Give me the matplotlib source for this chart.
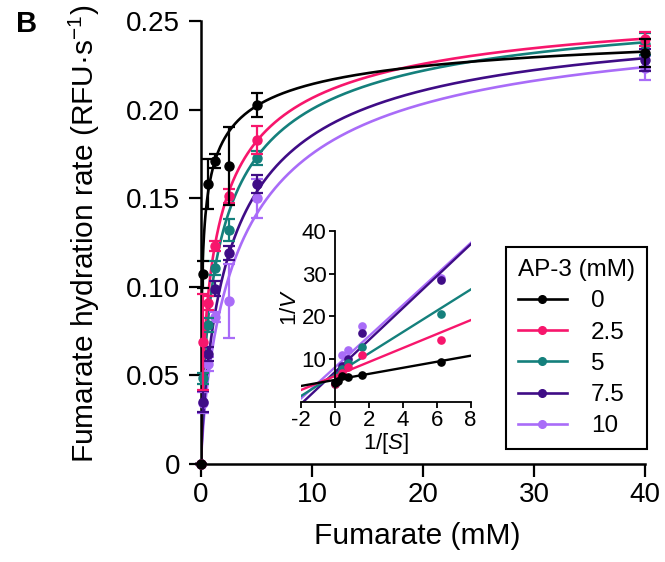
import matplotlib
matplotlib.use('Agg')
import matplotlib.pyplot as plt
from matplotlib.lines import Line2D
import numpy as np

plt.rcParams['font.family'] = ['Liberation Sans', 'DejaVu Sans']
plt.rcParams['mathtext.fontset'] = 'custom'
plt.rcParams['mathtext.rm'] = 'Liberation Sans'
plt.rcParams['mathtext.it'] = 'Liberation Sans:italic'
plt.rcParams['axes.unicode_minus'] = False

# fumarate concentrations (mM)
conc = [0, 0.16, 0.625, 1.25, 2.5, 5, 40]

# AP-3 concentrations (mM) for the legend
ap3_labels = ['0', '2.5', '5', '7.5', '10']
colors = ['#000000', '#F7166C', '#14807C', '#3F0C86', '#A96CF8']

# mean hydration rates and error bars
rate_0 = [0, 0.107, 0.158, 0.171, 0.168, 0.2026, 0.232]
err_0 = [0, 0.0075, 0.014, 0.004, 0.022, 0.0068, 0.008]
rate_2_5 = [0, 0.069, 0.091, 0.123, 0.151, 0.183, 0.240]
err_2_5 = [0, 0.027, 0.004, 0.003, 0.004, 0.008, 0.004]
rate_5 = [0, 0.0484, 0.0784, 0.1104, 0.132, 0.1725, 0.237]
err_5 = [0, 0.003, 0.004, 0.004, 0.006, 0.004, 0.006]
rate_7_5 = [0, 0.0352, 0.0620, 0.099, 0.119, 0.158, 0.228]
err_7_5 = [0, 0.006, 0.004, 0.004, 0.004, 0.005, 0.006]
rate_10 = [0, 0.0345, 0.0565, 0.083, 0.092, 0.150, 0.2235]
err_10 = [0, 0.006, 0.004, 0.003, 0.021, 0.011, 0.007]

rates = [rate_0, rate_2_5, rate_5, rate_7_5, rate_10]
errs = [err_0, err_2_5, err_5, err_7_5, err_10]

# fitted curve parameters (Vmax, K, n)
vmax = [0.26, 0.27, 0.27, 0.26, 0.26]
kval = [0.274, 1.63, 2.15, 3.15, 4.04]
hill_n = [0.43, 0.65, 0.686, 0.787, 0.797]

# double-reciprocal inset fit lines (slope, intercept)
lb_slope = [0.71, 1.64, 2.5, 3.75, 3.65]
lb_inter = [5.1, 6.0, 6.3, 6.9, 8.0]


def hill(s, vm, k, n):
    return vm * s**n / (k**n + s**n)


fig = plt.figure(figsize=(6.65, 5.62), dpi=100)
ax = fig.add_axes([0.3023, 0.1744, 0.6677, 0.7883])

s = np.linspace(0, 40, 600)
for i in reversed(range(5)):
    c = colors[i]
    ax.plot(s, hill(s, vmax[i], kval[i], hill_n[i]), color=c, lw=1.9, zorder=2 + (5 - i) * 0.1)
    cont = ax.errorbar(conc, rates[i], yerr=errs[i], fmt='o', color=c, ms=6.5,
                       capsize=4, elinewidth=1.6, capthick=1.6, zorder=3 + (5 - i) * 0.1)
    cont[0].set_clip_on(False)
    for a in cont[1]:
        a.set_clip_on(False)
    for a in cont[2]:
        a.set_clip_on(False)

ax.set_xlim(0, 40)
ax.set_ylim(0, 0.25)
ax.set_xticks([0, 10, 20, 30, 40])
ax.set_yticks([0, 0.05, 0.10, 0.15, 0.20, 0.25])
ax.set_yticklabels(['0', '0.05', '0.10', '0.15', '0.20', '0.25'])
for sp in ['top', 'right']:
    ax.spines[sp].set_visible(False)
for sp in ['left', 'bottom']:
    ax.spines[sp].set_linewidth(1.8)
ax.tick_params(labelsize=20, length=9, width=1.6)
ax.tick_params(axis='y', pad=6)
ax.tick_params(axis='x', pad=4)
ax.set_xlabel('Fumarate (mM)', fontsize=21.5)
ax.set_ylabel('Fumarate hydration rate (RFU·s$^{-1}$)', fontsize=21.5)
ax.xaxis.set_label_coords(0.487, -0.13)
ax.yaxis.set_label_coords(-0.222, 0.52)

handles = [Line2D([], [], color=colors[i], lw=1.9, marker='o', ms=5.5) for i in range(5)]
leg = ax.legend(handles, ap3_labels, title='AP-3 (mM)', loc='upper right',
                bbox_to_anchor=(1.005, 0.49), borderaxespad=0, fancybox=False,
                edgecolor='black', framealpha=1, fontsize=17.5, title_fontsize=17.5,
                handlelength=2.0, handletextpad=1.0, labelspacing=0.38, borderpad=0.5,
                alignment='left')
leg.get_frame().set_linewidth(1.5)
leg.set_zorder(10)

# inset: double-reciprocal plot
axin = fig.add_axes([0.4522, 0.2852, 0.2556, 0.3037])
axin.patch.set_alpha(0)
xl = np.array([-2, 8])
for i in reversed(range(5)):
    c = colors[i]
    axin.plot(xl, lb_slope[i] * xl + lb_inter[i], color=c, lw=1.7)
    inv_s = 1 / np.array(conc[1:])
    inv_v = 1 / np.array(rates[i][1:])
    axin.plot(inv_s, inv_v, 'o', color=c, ms=5.2, clip_on=False)
axin.set_xlim(-2, 8)
axin.set_ylim(0, 40)
axin.set_xticks([-2, 0, 2, 4, 6, 8])
axin.set_yticks([10, 20, 30, 40])
axin.spines['top'].set_visible(False)
axin.spines['right'].set_visible(False)
axin.spines['left'].set_position(('data', 0))
for sp in ['left', 'bottom']:
    axin.spines[sp].set_linewidth(1.3)
axin.tick_params(labelsize=16, length=4, width=1.3, pad=2)
axin.set_xlabel('1/[$S$]', fontsize=16)
axin.set_ylabel('1/$V$', fontsize=16)
axin.xaxis.set_label_coords(0.5, -0.17)
axin.yaxis.set_label_coords(-0.0, 0.55)

fig.text(0.024, 0.982, 'B', fontsize=21, fontweight='bold', va='top', ha='left')

fig.savefig('out.png', dpi=100)
